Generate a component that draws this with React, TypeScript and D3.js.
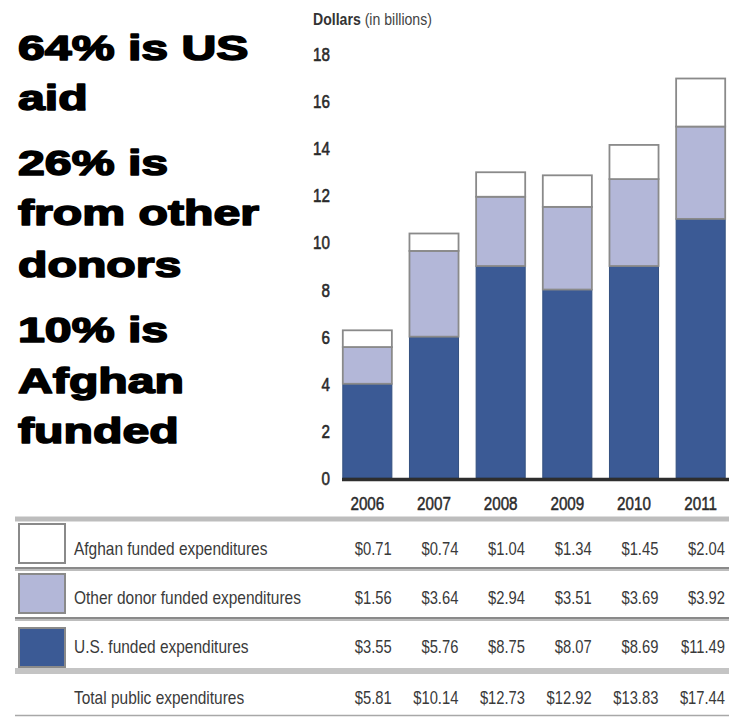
import React from "react";
import * as d3 from "d3";

const years = ["2006", "2007", "2008", "2009", "2010", "2011"];
// Bar heights of the U.S. segment as drawn in the picture
const usBar = [4.0, 6.0, 9.0, 8.0, 9.0, 11.0];
const otherValues = [1.56, 3.64, 2.94, 3.51, 3.69, 3.92];
const afghanValues = [0.71, 0.74, 1.04, 1.34, 1.45, 2.04];
const usValues = [3.55, 5.76, 8.75, 8.07, 8.69, 11.49];
const totalValues = [5.81, 10.14, 12.73, 12.92, 13.83, 17.44];
const yTicks = [0, 2, 4, 6, 8, 10, 12, 14, 16, 18];
const headline = ["64% is US", "aid", "26% is", "from other", "donors", "10% is", "Afghan", "funded"];
const headlineBaselines = [60, 110, 175, 225, 277, 342, 393, 443];
const rowLabels = [
  "Afghan funded expenditures",
  "Other donor funded expenditures",
  "U.S. funded expenditures",
  "Total public expenditures",
];

const W = 731;
const H = 717;
const BLUE = "#3b5a95";
const LAV = "#b3b7d8";
const FONT = "'Liberation Sans', Arial, sans-serif";

function NText({ x, y, sx = 0.88, anchor = "start", children, ...rest }: any) {
  return (
    <text transform={`translate(${x},${y}) scale(${sx},1)`} textAnchor={anchor} {...rest}>
      {children}
    </text>
  );
}

export default function App() {
  const x = d3.scaleBand<string>().domain(years).range([334, 734]).paddingInner(0.24).paddingOuter(0.12);
  const y = d3.scaleLinear().domain([0, 18]).range([478, 54]);
  const rows = years.map((yr, i) => ({ year: yr, us: usBar[i], other: otherValues[i], afghan: afghanValues[i] }));
  const stack = d3.stack<any>().keys(["us", "other", "afghan"])(rows);
  const fills: Record<string, string> = { us: BLUE, other: LAV, afghan: "#ffffff" };
  const strokes: Record<string, string> = { us: "#33507f", other: "#8a8a8a", afghan: "#8a8a8a" };
  const bw = x.bandwidth();

  const tableRows = [afghanValues, otherValues, usValues, totalValues];
  const rowBaselines = [555, 604, 653, 704];
  const swatchTops = [524, 574, 628];
  const swatchFills = ["#ffffff", LAV, BLUE];
  const fmt = (v: number) => "$" + v.toFixed(2);

  return (
    <svg width={W} height={H} style={{ position: "absolute", left: 0, top: 0, background: "#fff" }} fontFamily={FONT}>
      <rect x={0} y={0} width={W} height={H} fill="#fff" />
      {/* Headline text */}
      {headline.map((t, i) => (
        <NText key={t} x={18} y={headlineBaselines[i]} sx={1.34} fontSize={36} fontWeight={900} fill="#000" stroke="#000" strokeWidth={1.6} strokeLinejoin="round">
          {t}
        </NText>
      ))}

      {/* Axis title */}
      <NText x={313} y={25} sx={0.88} fontSize={16} fill="#444">
        <tspan fontWeight="bold" fill="#333">Dollars</tspan>
        <tspan> (in billions)</tspan>
      </NText>

      {/* Y tick labels */}
      {yTicks.map((t) => (
        <NText key={t} x={330} y={y(t) + 7} sx={0.8} anchor="end" fontSize={19} fill="#2a2a2a" stroke="#2a2a2a" strokeWidth={0.6}>
          {t}
        </NText>
      ))}

      {/* Bars */}
      {stack.map((layer) =>
        layer.map((d, i) => (
          <rect
            key={layer.key + i}
            x={(x(years[i]) as number) + 0.8}
            y={y(d[1])}
            width={bw - 1.6}
            height={y(d[0]) - y(d[1])}
            fill={fills[layer.key]}
            stroke={strokes[layer.key]}
            strokeWidth={layer.key === "us" ? 1 : 1.8}
          />
        ))
      )}

      {/* Baseline */}
      <line x1={342} x2={729} y1={479.5} y2={479.5} stroke="#2e2e2e" strokeWidth={3.5} />

      {/* Year labels */}
      {years.map((yr) => (
        <NText key={yr} x={(x(yr) as number) + bw / 2} y={510} sx={0.8} anchor="middle" fontSize={19} fill="#2a2a2a" stroke="#2a2a2a" strokeWidth={0.5}>
          {yr}
        </NText>
      ))}

      {/* Table rules */}
      <line x1={15} x2={729} y1={519} y2={519} stroke="#bdbdbd" strokeWidth={5} />
      <line x1={15} x2={729} y1={569} y2={569} stroke="#bdbdbd" strokeWidth={4} />
      <line x1={15} x2={729} y1={568} y2={568} stroke="#7a7a7a" strokeWidth={1.5} />
      <line x1={15} x2={729} y1={619} y2={619} stroke="#bdbdbd" strokeWidth={4} />
      <line x1={15} x2={729} y1={618} y2={618} stroke="#7a7a7a" strokeWidth={1.5} />
      <line x1={15} x2={729} y1={671} y2={671} stroke="#c4c4c4" strokeWidth={6} />
      <line x1={15} x2={729} y1={715.5} y2={715.5} stroke="#a8a8a8" strokeWidth={1.5} />

      {/* Legend swatches */}
      {swatchTops.map((t, i) => (
        <rect key={i} x={19} y={t} width={46} height={39} fill={swatchFills[i]} stroke="#8a8a8a" strokeWidth={2} />
      ))}

      {/* Row labels */}
      {rowLabels.map((lbl, i) => (
        <NText key={lbl} x={74} y={rowBaselines[i]} sx={0.86} fontSize={18} fill="#3a3a3a">
          {lbl}
        </NText>
      ))}

      {/* Table values */}
      {tableRows.map((vals, r) =>
        vals.map((v, i) => (
          <NText key={r + "-" + i} x={(x(years[i]) as number) + bw - 1} y={rowBaselines[r]} sx={0.82} anchor="end" fontSize={18} fill="#3a3a3a">
            {fmt(v)}
          </NText>
        ))
      )}
    </svg>
  );
}
